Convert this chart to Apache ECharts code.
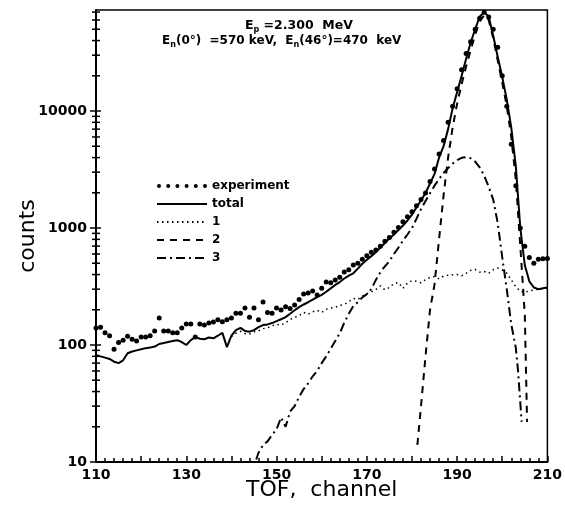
<!DOCTYPE html>
<html lang="en">
<head>
    <meta charset="UTF-8">
    <title>TOF spectrum</title>
    <script src="https://cdn.jsdelivr.net/npm/echarts@6/dist/echarts.min.js"></script>
    <style>
        html, body { margin: 0; padding: 0; background: #fff; }
        #chart { width: 565px; height: 516px; }
    </style>
</head>
<body>
<div id="chart"></div>
<script type="text/javascript">
    // channels of the measured spectrum
    var channels = [110,111,112,113,114,115,116,117,118,119,120,121,122,123,124,125,126,127,128,129,
        130,131,132,133,134,135,136,137,138,139,140,141,142,143,144,145,146,147,148,149,
        150,151,152,153,154,155,156,157,158,159,160,161,162,163,164,165,166,167,168,169,
        170,171,172,173,174,175,176,177,178,179,180,181,182,183,184,185,186,187,188,189,
        190,191,192,193,194,195,196,197,198,199,200,201,202,203,204,205,206,207,208,209,210];

    var expCounts = [140,142,127,120,92,105,110,119,112,108,117,117,120,132,170,132,132,127,127,140,
        151,151,117,151,148,154,157,164,158,164,170,187,187,207,173,207,164,233,190,187,
        207,199,212,205,220,245,273,278,290,268,305,345,340,359,380,421,440,483,500,540,
        580,620,649,700,770,830,920,1010,1130,1250,1380,1550,1750,1990,2500,3200,4300,5600,8000,11000,
        15500,22500,31000,39000,50000,62000,70000,63500,50000,35000,20000,11000,5200,2300,1000,700,560,500,540,545,550];

    var totalCounts = [82,80,78,76,72,70,74,85,88,90,92,94,95,97,102,104,106,108,110,106,
        100,110,117,113,112,116,114,120,127,96,120,134,140,132,130,134,142,148,150,154,
        160,166,173,185,198,211,222,232,244,257,268,285,305,326,345,370,392,410,450,495,
        535,575,620,680,745,815,880,960,1050,1160,1300,1500,1720,1990,2400,2900,4000,5000,7000,10500,
        14500,20000,28000,38500,50000,64000,70000,64000,44000,29000,19500,12500,7200,3400,1000,480,350,310,300,305,310];

    // component 1 (background), visible from channel 140
    var comp1Channels = [140,141,142,143,144,145,146,147,148,149,150,151,152,153,154,155,156,157,158,159,
        160,161,162,163,164,165,166,167,168,169,170,171,172,173,174,175,176,177,178,179,
        180,181,182,183,184,185,186,187,188,189,190,191,192,193,194,195,196,197,198,199,
        200,201,202,203,204,205,206,207,208,209,210];
    var comp1Counts = [118,126,131,125,124,130,132,138,140,146,150,148,155,165,172,178,190,183,192,198,
        190,202,207,210,218,222,235,250,245,262,275,284,298,320,296,310,335,342,305,338,
        355,350,340,362,378,385,368,388,395,398,400,390,410,435,442,420,425,410,440,455,
        438,412,360,315,288,282,290,295,300,302,305];

    // component 2 (narrow peak)
    var comp2Channels = [181.2,182,183,184,185,186,187,188,189,190,191,192,193,194,195,196,197,198,199,200,201,202,203,204,205,205.5];
    var comp2Counts = [14,30,80,200,330,800,1900,4000,7200,11500,17000,24000,33000,45000,58000,66000,60000,42000,27000,17500,11000,6000,2600,700,180,22];

    // component 3 (broad peak)
    var comp3Channels = [145.5,146,147,148,149,150,151,152,153,154,155,156,157,158,159,160,161,162,163,164,165,166,167,168,169,
        170,171,172,173,174,175,176,177,178,179,180,181,182,183,184,185,186,187,188,189,
        190,191,192,193,194,195,196,197,198,199,200,201,202,203,203.5,204,204.3];
    var comp3Counts = [10.5,12,14,15,17,19,24,20,27,30,36,42,47,54,60,70,80,93,108,126,155,185,215,232,255,
        272,300,360,420,470,520,600,680,780,880,1000,1200,1450,1700,1980,2300,2620,2950,3250,3550,
        3800,3980,4040,3950,3700,3300,2800,2250,1750,1100,560,300,150,95,60,32,22];

    // log axis tick values
    var decadeTicks = [10, 100, 1000, 10000];
    var minorTicks = [20,30,40,50,60,70,80,90,200,300,400,500,600,700,800,900,
        2000,3000,4000,5000,6000,7000,8000,9000,20000,30000,40000,50000,60000,70000];

    function pairs(xs, ys) {
        var out = [];
        for (var i = 0; i < xs.length; i++) out.push([xs[i], ys[i]]);
        return out;
    }

    var font = 'DejaVu Sans';
    var expIcon = 'path://';
    for (var k = 0; k < 6; k++) {
        var cx = 2 + k * 9.2;
        expIcon += 'M' + (cx - 2) + ',2 a2,2 0 1,0 4,0 a2,2 0 1,0 -4,0 ';
    }

    var yTicks = [];
    decadeTicks.forEach(function (v) { yTicks.push([110, v, 1]); });
    minorTicks.forEach(function (v) { yTicks.push([110, v, 0]); });

    // hide the marker that the line legend icon adds in the middle
    var noMarker = { opacity: 0 };

    var chart = echarts.init(document.getElementById('chart'));
    chart.setOption({
        animation: false,
        backgroundColor: '#fff',
        grid: {
            left: 96, right: 14, top: 10, bottom: 54,
            show: true, borderColor: '#000', borderWidth: 1.5
        },
        legend: {
            orient: 'vertical',
            left: 151, top: 175,
            itemWidth: 50, itemHeight: 8, itemGap: 6,
            textStyle: { fontFamily: font, fontWeight: 'bold', fontSize: 12, color: '#000' },
            data: [
                { name: 'experiment', icon: expIcon },
                { name: 'total', itemStyle: noMarker },
                { name: '1', itemStyle: noMarker },
                { name: '2', itemStyle: noMarker },
                { name: '3', itemStyle: noMarker }
            ]
        },
        xAxis: {
            type: 'value',
            min: 110, max: 210, interval: 10,
            name: 'TOF,  channel',
            nameLocation: 'middle',
            nameGap: 17,
            nameMoveOverlap: false,
            nameTextStyle: { fontFamily: font, fontSize: 22, color: '#000' },
            axisLine: { lineStyle: { color: '#000', width: 2 } },
            axisTick: { inside: true, length: 6, lineStyle: { color: '#000', width: 1.5 } },
            minorTick: { show: true, splitNumber: 5, length: 4, lineStyle: { color: '#000', width: 1.5 } },
            splitLine: { show: false },
            axisLabel: {
                margin: 6,
                fontFamily: font, fontSize: 14, fontWeight: 'bold', color: '#000',
                formatter: function (v) { return ((v - 110) % 20 === 0) ? String(v) : ''; }
            }
        },
        yAxis: {
            type: 'log',
            logBase: 10,
            min: 10, max: 73000,
            name: 'counts',
            nameLocation: 'middle',
            nameGap: 57,
            nameMoveOverlap: false,
            nameTextStyle: { fontFamily: font, fontSize: 22, color: '#000' },
            axisLine: { lineStyle: { color: '#000', width: 2 } },
            axisTick: { show: false },
            splitLine: { show: false },
            axisLabel: {
                margin: 9,
                fontFamily: font, fontSize: 14, fontWeight: 'bold', color: '#000',
                formatter: function (v) {
                    var l = Math.log(v) / Math.LN10;
                    return Math.abs(l - Math.round(l)) < 1e-6 ? String(Math.round(v)) : '';
                }
            }
        },
        graphic: [
            {
                type: 'text', left: 245, top: 19,
                style: {
                    text: '{m|E}{s|p}{m| =2.300  MeV}',
                    fill: '#000',
                    rich: {
                        m: { fontFamily: font, fontSize: 12.5, fontWeight: 'bold', lineHeight: 16, verticalAlign: 'middle' },
                        s: { fontFamily: font, fontSize: 8, fontWeight: 'bold', lineHeight: 16, verticalAlign: 'bottom' }
                    }
                }
            },
            {
                type: 'text', left: 162, top: 35,
                style: {
                    text: '{m|E}{s|n}{m|(0°)  =570 keV,  E}{s|n}{m|(46°)=470  keV}',
                    fill: '#000',
                    rich: {
                        m: { fontFamily: font, fontSize: 12, fontWeight: 'bold', lineHeight: 16, verticalAlign: 'middle' },
                        s: { fontFamily: font, fontSize: 8, fontWeight: 'bold', lineHeight: 16, verticalAlign: 'bottom' }
                    }
                }
            }
        ],
        series: [
            {
                name: 'experiment',
                type: 'scatter',
                data: pairs(channels, expCounts),
                symbol: 'circle',
                symbolSize: 5,
                itemStyle: { color: '#000', opacity: 1 },
                z: 5
            },
            {
                name: 'total',
                type: 'line',
                data: pairs(channels, totalCounts),
                showSymbol: false,
                symbol: 'none',
                lineStyle: { color: '#000', width: 2 },
                itemStyle: { color: '#000' }
            },
            {
                name: '1',
                type: 'line',
                data: pairs(comp1Channels, comp1Counts),
                symbol: 'none',
                lineStyle: { color: '#000', width: 1.5, type: [1.5, 3.5] },
                itemStyle: { color: '#000' }
            },
            {
                name: '2',
                type: 'line',
                data: pairs(comp2Channels, comp2Counts),
                symbol: 'none',
                lineStyle: { color: '#000', width: 2, type: [7, 6] },
                itemStyle: { color: '#000' }
            },
            {
                name: '3',
                type: 'line',
                data: pairs(comp3Channels, comp3Counts),
                symbol: 'none',
                lineStyle: { color: '#000', width: 2, type: [9, 4, 2, 4] },
                itemStyle: { color: '#000' }
            },
            {
                name: 'yticks',
                type: 'custom',
                data: yTicks,
                clip: false,
                silent: true,
                renderItem: function (params, api) {
                    var p = api.coord([api.value(0), api.value(1)]);
                    var major = api.value(2) === 1;
                    return {
                        type: 'line',
                        shape: { x1: p[0] - (major ? 6 : 4), y1: p[1], x2: p[0] + (major ? 5 : 4), y2: p[1] },
                        style: { stroke: '#000', lineWidth: 1.5 }
                    };
                }
            }
        ]
    });
</script>
</body>
</html>
